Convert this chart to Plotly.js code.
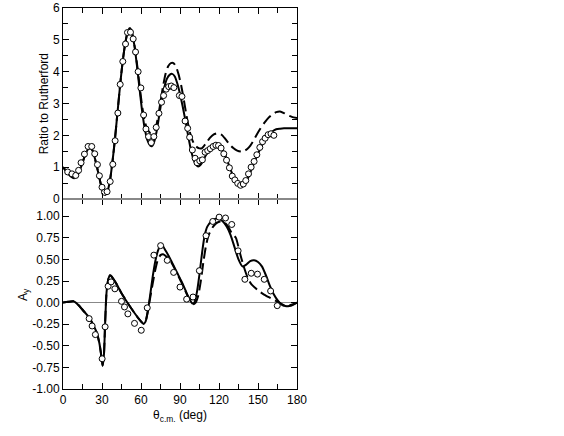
<!DOCTYPE html>
<html>
<head>
<meta charset="utf-8">
<script src="https://cdn.plot.ly/plotly-3.0.1.min.js"></script>
<style>html,body{margin:0;padding:0;background:#fff;}#chart{width:564px;height:436px;}</style>
</head>
<body>
<div id="chart"></div>
<script>
// ---- Top panel: ratio to Rutherford ----
const thetaTopSolid = [0,3,6,8.5,11,14,17,19.5,21,23,25,27,29,31,32.5,34,36,38,40,42,44,46,48,50,51.5,53,55,57,59,61,63,65,67,68.5,70,72,74,76,78,80,82,84,86,88,90,92,94,96,98,100,102,104,106,108,110,113,116,119,122,125,128,131,134,137,140,143,146,149,152,155,158,161,164,167,170,175,180];
const ratioSolid = [1.0,0.85,0.71,0.65,0.74,1.02,1.38,1.58,1.6,1.5,1.2,0.85,0.48,0.2,0.14,0.22,0.55,1.15,1.9,2.75,3.6,4.35,4.92,5.28,5.37,5.22,4.8,4.15,3.42,2.72,2.18,1.84,1.68,1.66,1.78,2.12,2.62,3.12,3.52,3.78,3.9,3.93,3.85,3.62,3.3,2.92,2.5,2.05,1.62,1.3,1.1,1.02,1.08,1.22,1.38,1.55,1.66,1.7,1.6,1.35,1.02,0.72,0.5,0.4,0.47,0.72,1.03,1.33,1.6,1.83,2.0,2.12,2.19,2.21,2.22,2.22,2.22];

const thetaTopDashed = [0,3,6,8.5,11,14,17,19.5,21,23,25,27,29,31,32.5,34,36,38,40,42,44,46,48,50,51.5,53,55,57,59,61,63,65,67,69,71,73,75,77,79,81,83,85,87,89,91,93,95,97,99,101,103,105,107,110,113,116,119,122,125,128,131,134,137,140,143,146,149,152,155,158,161,164,167,170,173,176,180];
const ratioDashed = [1.0,0.85,0.71,0.65,0.74,1.02,1.38,1.58,1.6,1.5,1.2,0.85,0.48,0.2,0.14,0.22,0.55,1.15,1.9,2.75,3.6,4.35,4.92,5.28,5.38,5.24,4.82,4.22,3.52,2.88,2.42,2.18,2.08,2.07,2.2,2.55,3.05,3.55,3.95,4.18,4.27,4.27,4.15,3.9,3.55,3.1,2.62,2.2,1.9,1.72,1.63,1.59,1.6,1.75,1.92,2.03,2.07,2.02,1.88,1.72,1.6,1.52,1.49,1.52,1.62,1.8,2.02,2.22,2.4,2.55,2.66,2.73,2.75,2.7,2.63,2.58,2.54];

const thetaTopData = [3.6,6.9,9.8,12,13.9,16.5,19.3,22.1,24.4,26.5,28,30,31.9,33.9,36.3,38.3,40.1,42.2,44,46,48.1,49.6,51.9,54,55.8,57.8,59.9,62,63.8,65.8,67.9,69.9,71.7,73.8,75.8,77.4,79.4,81.3,83.3,85.3,89.5,91.5,93.9,95.9,97.4,99.5,101.6,103.1,105.2,107.2,109.3,111.3,113.3,115.5,117.6,119.6,121.6,123.7,125.8,128,130.2,132.2,134.4,136.6,138.7,140.6,142.7,144.7,147,149.1,151.4,153.5,155.5,157.8,160,162.2];
const ratioData = [0.85,0.79,0.74,0.9,1.14,1.41,1.65,1.65,1.42,1.08,0.73,0.37,0.21,0.23,0.55,1.09,1.83,2.7,3.6,4.32,4.87,5.23,5.24,5.03,4.62,4.0,3.49,2.64,2.2,1.96,1.77,1.96,2.25,2.69,3.04,3.25,3.45,3.53,3.55,3.5,3.25,3.22,2.45,2.22,1.94,1.54,1.28,1.14,1.2,1.23,1.47,1.52,1.58,1.65,1.69,1.68,1.6,1.42,1.22,0.98,0.72,0.6,0.49,0.43,0.47,0.58,0.79,1.0,1.18,1.39,1.62,1.8,1.91,2.02,2.05,2.0];

// ---- Bottom panel: analyzing power A_y ----
const thetaAySolid = [0,4,8,12,16,20,23,26,28,29.5,30.5,31.5,32.5,33.5,35,36.3,38,41,45,50,55,59,62,63.5,65,67,69,71,73,75,76.5,79,82,85,88,91,94,97,99.5,101,103,105,107,109,111,114,117,120,123,126,129,132,135,138,141,144,147,150,153,156,159,162,165,168,171,174,177,180];
const aySolid = [0.0,0.01,0.015,-0.03,-0.1,-0.17,-0.25,-0.35,-0.47,-0.62,-0.73,-0.6,-0.2,0.12,0.28,0.32,0.29,0.22,0.11,-0.01,-0.12,-0.2,-0.245,-0.22,-0.12,0.08,0.3,0.48,0.6,0.66,0.66,0.6,0.52,0.43,0.34,0.25,0.15,0.05,-0.01,0.0,0.12,0.33,0.58,0.78,0.88,0.94,0.97,0.97,0.94,0.88,0.78,0.64,0.5,0.42,0.44,0.48,0.49,0.47,0.42,0.32,0.2,0.1,0.03,-0.02,-0.04,-0.04,-0.025,0.0];

const thetaAyDashed = [0,4,8,12,16,20,23,26,28,29.5,30.5,31.5,32.5,33.5,35,36.3,38,41,45,50,55,59,62,63.5,65,67,69,71,73,75,77,79,82,85,88,91,94,97,100,102,104,106,108,110,112,115,118,121,124,127,130,133,136,139,142,145,148,151,155,160,165,170,174,180];
const ayDashed = [0.0,0.01,0.015,-0.03,-0.1,-0.17,-0.25,-0.35,-0.47,-0.62,-0.73,-0.6,-0.2,0.12,0.28,0.32,0.29,0.22,0.11,-0.01,-0.12,-0.2,-0.245,-0.22,-0.12,0.05,0.22,0.38,0.5,0.55,0.56,0.54,0.5,0.42,0.33,0.24,0.14,0.04,-0.02,0.0,0.08,0.25,0.47,0.66,0.78,0.87,0.92,0.94,0.93,0.88,0.8,0.75,0.58,0.42,0.29,0.21,0.17,0.13,0.09,0.05,0.01,-0.03,-0.03,0.0];

const thetaAyData = [20.1,22.4,24.9,30.1,32.4,34.7,37,39.9,45,47.3,49.9,55,60.2,64.8,69.9,75.1,80.2,85.1,90,95.1,100,104.9,110,115.2,120.1,125,129.8,134.7,139.9,144.8,149.6,154.8,159.7,164.8];
const ayData = [-0.185,-0.27,-0.37,-0.65,-0.28,0.19,0.24,0.16,0.015,-0.05,-0.13,-0.24,-0.32,-0.06,0.55,0.66,0.49,0.35,0.18,0.04,0.065,0.37,0.775,0.94,0.99,0.98,0.905,0.6,0.27,0.34,0.33,0.27,0.135,-0.035];

// ---- Tick labels ----
const xTickVals = [0,30,60,90,120,150,180];
const xTickText = ['0','30','60','90','120','150','180'];
const ratioTickVals = [0,1,2,3,4,5,6];
const ratioTickText = ['0','1','2','3','4','5','6'];
const ayTickVals = [-1,-0.75,-0.5,-0.25,0,0.25,0.5,0.75,1];
const ayTickText = ['-1.00','-0.75','-0.50','-0.25','0.00','0.25','0.50','0.75','1.00'];

const FONT = 'Liberation Sans, Arial, Helvetica, sans-serif';
const split = 0.4987;

const lineSolid = {color:'#000', width:2, shape:'spline', smoothing:0.6};
const lineDash = {color:'#000', width:2, dash:'11px,5px', shape:'spline', smoothing:0.6};
const mk = {symbol:'circle', size:6, color:'#fff', line:{color:'#000', width:1}};

const traces = [
  {x:thetaTopDashed, y:ratioDashed, mode:'lines', line:lineDash, xaxis:'x', yaxis:'y'},
  {x:thetaTopSolid, y:ratioSolid, mode:'lines', line:lineSolid, xaxis:'x', yaxis:'y'},
  {x:thetaTopData, y:ratioData, mode:'markers', marker:mk, xaxis:'x', yaxis:'y'},
  {x:thetaAyDashed, y:ayDashed, mode:'lines', line:lineDash, xaxis:'x2', yaxis:'y2'},
  {x:thetaAySolid, y:aySolid, mode:'lines', line:lineSolid, xaxis:'x2', yaxis:'y2'},
  {x:thetaAyData, y:ayData, mode:'markers', marker:mk, xaxis:'x2', yaxis:'y2'}
];

const xCommon = {
  range:[0,180], showline:true, linecolor:'#000', linewidth:1, mirror:'ticks',
  ticks:'inside', ticklen:6, tickwidth:1, tickcolor:'#000',
  tickvals:xTickVals, ticktext:xTickText,
  minor:{dtick:15, tick0:0, ticks:'inside', ticklen:5, tickwidth:1, tickcolor:'#000'},
  showgrid:false, zeroline:false, fixedrange:true
};

const layout = {
  width:564, height:436,
  margin:{l:63, r:267, t:8, b:47, pad:0},
  paper_bgcolor:'#fff', plot_bgcolor:'#fff',
  showlegend:false,
  font:{family:FONT, size:12, color:'#000'},
  xaxis: Object.assign({}, xCommon, {anchor:'y', showticklabels:false}),
  xaxis2: Object.assign({}, xCommon, {anchor:'y2', showticklabels:true,
    tickfont:{family:FONT, size:12, color:'#000'},
    title:{text:'θ<sub>c.m.</sub> (deg)', font:{family:FONT, size:12, color:'#000'}, standoff:4}}),
  yaxis: {
    domain:[split,1], range:[0,6], anchor:'x',
    showline:true, linecolor:'#000', linewidth:1, mirror:'ticks',
    ticks:'inside', ticklen:6, tickwidth:1, tickcolor:'#000',
    tickvals:ratioTickVals, ticktext:ratioTickText,
    minor:{dtick:0.5, tick0:0, ticks:'inside', ticklen:5, tickwidth:1, tickcolor:'#000'},
    tickfont:{family:FONT, size:12, color:'#000'},
    showgrid:false, zeroline:false, fixedrange:true
  },
  yaxis2: {
    domain:[0,split], range:[-1,1.2], anchor:'x2',
    showline:true, linecolor:'#000', linewidth:1, mirror:'ticks',
    ticks:'inside', ticklen:6, tickwidth:1, tickcolor:'#000',
    tickvals:ayTickVals, ticktext:ayTickText,
    tickfont:{family:FONT, size:12, color:'#000'},
    showgrid:false, zeroline:true, zerolinecolor:'#888', zerolinewidth:1.5, fixedrange:true
  },
  shapes:[
    {type:'line', xref:'paper', yref:'paper', x0:0, x1:1, y0:split, y1:split,
     line:{color:'#888', width:2}, layer:'above'}
  ],
  annotations:[
    {text:'Ratio to Rutherford', xref:'paper', yref:'paper', x:-0.0775, y:(1+split)/2,
     textangle:-90, showarrow:false, xanchor:'center', yanchor:'middle',
     font:{family:FONT, size:12, color:'#000'}},
    {text:'A<sub>y</sub>', xref:'paper', yref:'paper', x:-0.167, y:split/2,
     textangle:-90, showarrow:false, xanchor:'center', yanchor:'middle',
     font:{family:FONT, size:12, color:'#000'}}
  ]
};

Plotly.newPlot('chart', traces, layout, {staticPlot:true, displayModeBar:false});
</script>
</body>
</html>
